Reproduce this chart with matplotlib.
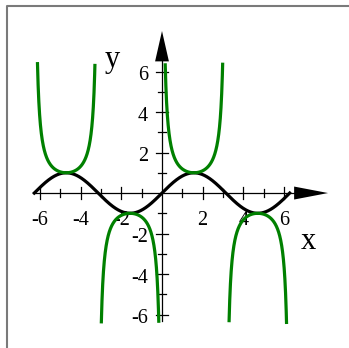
import numpy as np
import matplotlib.pyplot as plt
from matplotlib.patches import Polygon

# dominio y recorte de las curvas
x_min, x_max = -2 * np.pi, 2 * np.pi
y_clip = 6.4

# marcas de los ejes
major_ticks = [-6, -4, -2, 2, 4, 6]
minor_ticks = [-5, -3, -1, 1, 3, 5]
x_labels = ["-6", "-4", "-2", "2", "4", "6"]
y_labels = ["-6", "-4", "-2", "2", "4", "6"]

plt.rcParams["font.family"] = ["Liberation Serif", "DejaVu Serif"]

fig = plt.figure(figsize=(3.49, 3.48), dpi=100)
ax = fig.add_axes([0, 0, 1, 1])
ax.set_xlim(-7.97, 9.2)
ax.set_ylim(-7.65, 9.53)
ax.axis("off")

# recuadro gris (solo arriba e izquierda)
ax.plot([0.02, 0.02, 1.0], [0.0, 0.982, 0.982], transform=ax.transAxes,
        color="#7a7a7a", lw=1.5, solid_capstyle="butt", clip_on=False)

# ejes
ax.plot([-6.35, 6.6], [0, 0], color="black", lw=0.9, zorder=2)
ax.plot([0, 0], [-6.3, 6.6], color="black", lw=0.9, zorder=2)
ax.add_patch(Polygon([[6.5, 0.32], [8.17, 0], [6.5, -0.32]], closed=True,
                     color="black", lw=0, zorder=2))
ax.add_patch(Polygon([[-0.34, 6.5], [0, 8.0], [0.34, 6.5]], closed=True,
                     color="black", lw=0, zorder=2))

for t in major_ticks:
    ax.plot([t, t], [-0.3, 0.3], color="black", lw=0.9, zorder=2)
    ax.plot([-0.3, 0.3], [t, t], color="black", lw=0.9, zorder=2)
for t in minor_ticks:
    ax.plot([t, t], [-0.18, 0.18], color="black", lw=0.9, zorder=2)
    ax.plot([-0.18, 0.18], [t, t], color="black", lw=0.9, zorder=2)

for t, lab in zip(major_ticks, x_labels):
    ax.text(t, -1.38, lab, fontsize=14.5, ha="center", va="center", zorder=1)
for t, lab in zip(major_ticks, y_labels):
    ax.text(-0.68, t - 0.2, lab, fontsize=14.5, ha="right", va="center", zorder=1)

ax.text(7.2, -2.4, "x", fontsize=22, ha="center", va="center")
ax.text(-2.45, 6.6, "y", fontsize=22, ha="center", va="center")

# curvas: sen(x) y csc(x)
x = np.linspace(x_min, x_max, 2000)
ax.plot(x, np.sin(x), color="black", lw=2.3, zorder=3)

xc = np.linspace(x_min + 1e-4, x_max - 1e-4, 4000)
csc = 1 / np.sin(xc)
csc[np.abs(csc) > y_clip] = np.nan
ax.plot(xc, csc, color="#008000", lw=2.3, zorder=4)

fig.savefig("out.png", dpi=100)
